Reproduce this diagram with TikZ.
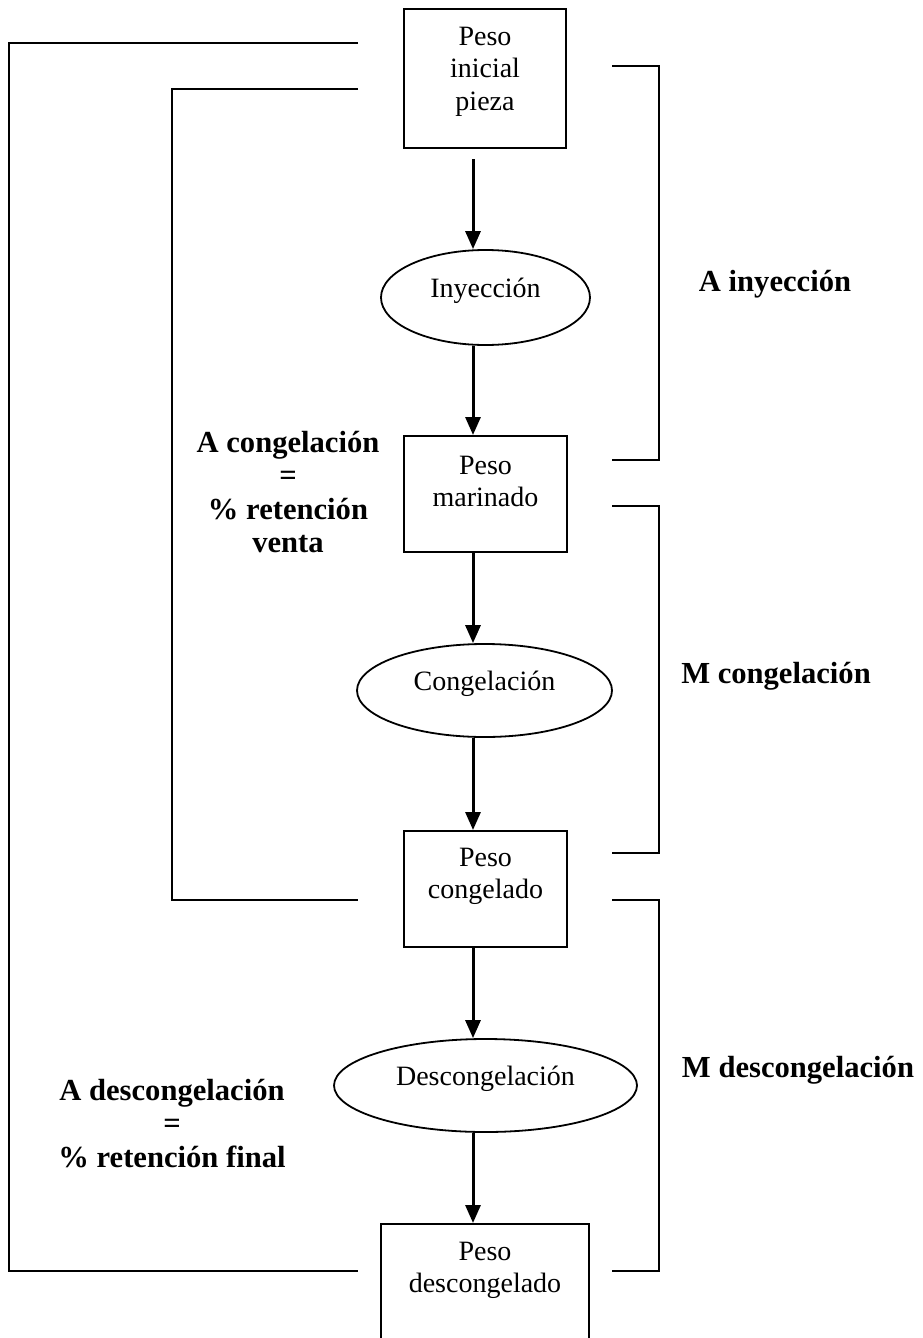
\documentclass[tikz,border=0pt]{standalone}
\usepackage{fontspec}
\setmainfont{Liberation Serif}
\usetikzlibrary{arrows.meta,shapes.geometric,calc}
\begin{document}
\begin{tikzpicture}[x=1pt,y=-1pt,
  boxst/.style={draw,line width=2pt,rectangle,inner sep=0pt},
  ellst/.style={draw,line width=1.8pt,ellipse,inner sep=0pt,text height=19pt,text depth=19pt,font=\fontsize{28}{32.5}\selectfont},
  txt/.style={inner sep=0pt,align=center,anchor=north,font=\fontsize{28}{32.5}\selectfont},
  lbl/.style={inner sep=0pt,align=center,font=\fontsize{30.6}{33.3}\selectfont\bfseries},
  arr/.style={line width=3pt,-{Triangle[length=18pt,width=15pt]}},
  brk/.style={line width=2pt}]
\useasboundingbox (0,0) rectangle (922,1338);
\clip (0,0) rectangle (922,1338);
\coordinate (colx) at (473,0);

% boxes
\node[boxst,minimum width=162pt,minimum height=139pt] (b1) at (485,78.5) {};
\node[txt] (t1) at (485,26.5) {Peso\\inicial\\pieza};
\node[boxst,minimum width=163pt,minimum height=116pt] (b2) at (485.5,494) {};
\node[txt] (t2) at (485.5,455.5) {Peso\\marinado};
\node[boxst,minimum width=163pt,minimum height=116pt] (b3) at (485.5,889) {};
\node[txt] (t3) at (485.5,847.5) {Peso\\congelado};
\node[boxst,minimum width=208pt,minimum height=130pt] (b4) at (485,1289) {};
\node[txt] (t4) at (485,1241.5) {Peso\\descongelado};

% ellipses
\node[ellst,minimum width=209pt,minimum height=95pt] (e1) at (485.5,297.5) {Inyección};
\node[ellst,minimum width=255pt,minimum height=93pt] (e2) at (484.5,690.5) {Congelación};
\node[ellst,minimum width=303pt,minimum height=93pt] (e3) at (485.5,1085.5) {Descongelación};

% arrows
\draw[arr] ($(b1.south -| colx)+(0,10)$) -- (e1.north -| colx);
\draw[arr] (e1.south -| colx) -- (b2.north -| colx);
\draw[arr] (b2.south -| colx) -- (e2.north -| colx);
\draw[arr] (e2.south -| colx) -- (b3.north -| colx);
\draw[arr] (b3.south -| colx) -- (e3.north -| colx);
\draw[arr] (e3.south -| colx) -- (b4.north -| colx);

% right brackets
\draw[brk] (612,66) -- (659,66) -- (659,460) -- (612,460);
\draw[brk] (612,506) -- (659,506) -- (659,853) -- (612,853);
\draw[brk] (612,900) -- (659,900) -- (659,1271) -- (612,1271);
% left brackets
\draw[brk] (358,43) -- (9,43) -- (9,1271) -- (358,1271);
\draw[brk] (358,89) -- (172,89) -- (172,900) -- (358,900);

% labels
\node[lbl,anchor=base] (la) at (775,291) {A inyección};
\node[lbl,anchor=base] (lm1) at (776,683) {M congelación};
\node[lbl,anchor=base] (lm2) at (798,1077) {M descongelación};
\node[lbl,anchor=north] (lc) at (288,431) {A congelación\\=\\\% retención\\venta};
\node[lbl,anchor=north] (ld) at (172,1079) {A descongelación\\=\\\% retención final};
\end{tikzpicture}
\end{document}
